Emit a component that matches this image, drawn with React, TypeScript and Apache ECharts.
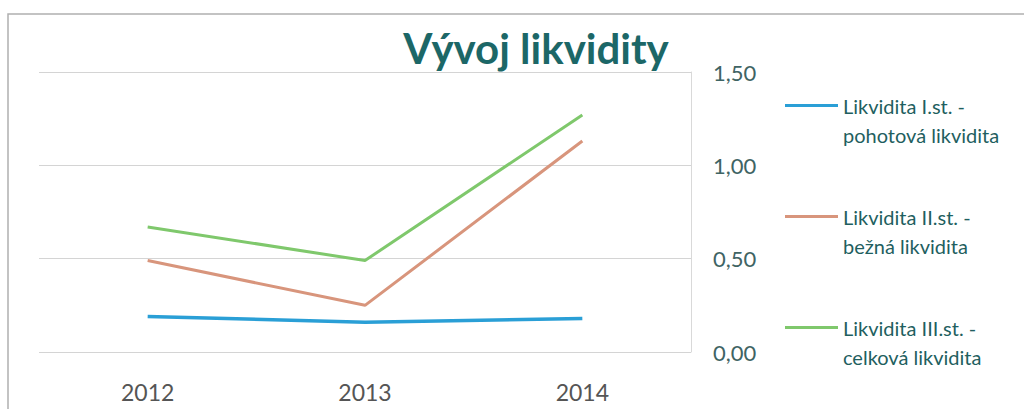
import React, { useEffect, useRef } from "react";
import * as echarts from "echarts";

const categories = ["2012", "2013", "2014"];
const seriesNames = [
  "Likvidita I.st. -\npohotová likvidita",
  "Likvidita II.st. -\nbežná likvidita",
  "Likvidita III.st. -\ncelková likvidita",
];
const likvidita1 = [0.19, 0.16, 0.18];
const likvidita2 = [0.49, 0.25, 1.13];
const likvidita3 = [0.67, 0.49, 1.27];
const yTicks = { min: 0, max: 1.5, interval: 0.5 };

export default function App() {
  const ref = useRef<HTMLDivElement>(null);
  useEffect(() => {
    const chart = echarts.init(ref.current!, null, { renderer: "svg" });
    const colors = ["#2a9fd6", "#d8957c", "#7fc86c"];
    const data = [likvidita1, likvidita2, likvidita3];
    chart.setOption({
      animation: false,
      backgroundColor: "#ffffff",
      color: colors,
      title: {
        text: "Vývoj likvidity",
        left: 531,
        textAlign: "center",
        top: 22,
        textStyle: {
          fontFamily: "Lato",
          fontWeight: "bold",
          fontSize: 42,
          color: "#1c6767",
        },
      },
      graphic: [
        {
          type: "rect",
          shape: { x: 8, y: 14, width: 1100, height: 500 },
          style: { fill: "none", stroke: "#b0b0b0", lineWidth: 1.5 },
          silent: true,
          z: -1,
        },
      ],
      grid: { left: 39, right: 333, top: 72, bottom: 57 },
      legend: {
        orient: "vertical",
        left: 785,
        top: 62,
        padding: 0,
        itemGap: 24,
        itemWidth: 53,
        itemHeight: 3,
        icon: "rect",
        data: seriesNames,
        formatter: (name: string) => " \n" + name,
        textStyle: {
          fontFamily: "Lato",
          fontSize: 20,
          lineHeight: 29,
          color: "#1f5f5f",
        },
      },
      xAxis: {
        type: "category",
        data: categories,
        boundaryGap: true,
        axisLine: { show: false },
        axisTick: { show: false },
        axisLabel: {
          margin: 28,
          fontFamily: "Lato",
          fontSize: 23,
          color: "#555555",
        },
      },
      yAxis: {
        type: "value",
        position: "right",
        min: yTicks.min,
        max: yTicks.max,
        interval: yTicks.interval,
        axisLine: { show: true, lineStyle: { color: "#d9d9d9", width: 1 } },
        axisTick: { show: false },
        splitLine: { lineStyle: { color: "#d4d4d4", width: 1 } },
        axisLabel: {
          margin: 22,
          fontFamily: "Lato",
          fontSize: 22,
          color: "#3f6464",
          formatter: (v: number) => v.toFixed(2).replace(".", ","),
        },
      },
      series: seriesNames.map((name, i) => ({
        name,
        type: "line",
        data: data[i],
        symbol: "none",
        lineStyle: { width: i === 0 ? 3.5 : 3, color: colors[i] },
      })),
    });
    return () => chart.dispose();
  }, []);
  return (
    <div
      ref={ref}
      style={{ position: "absolute", left: 0, top: 0, width: 1024, height: 409 }}
    />
  );
}
